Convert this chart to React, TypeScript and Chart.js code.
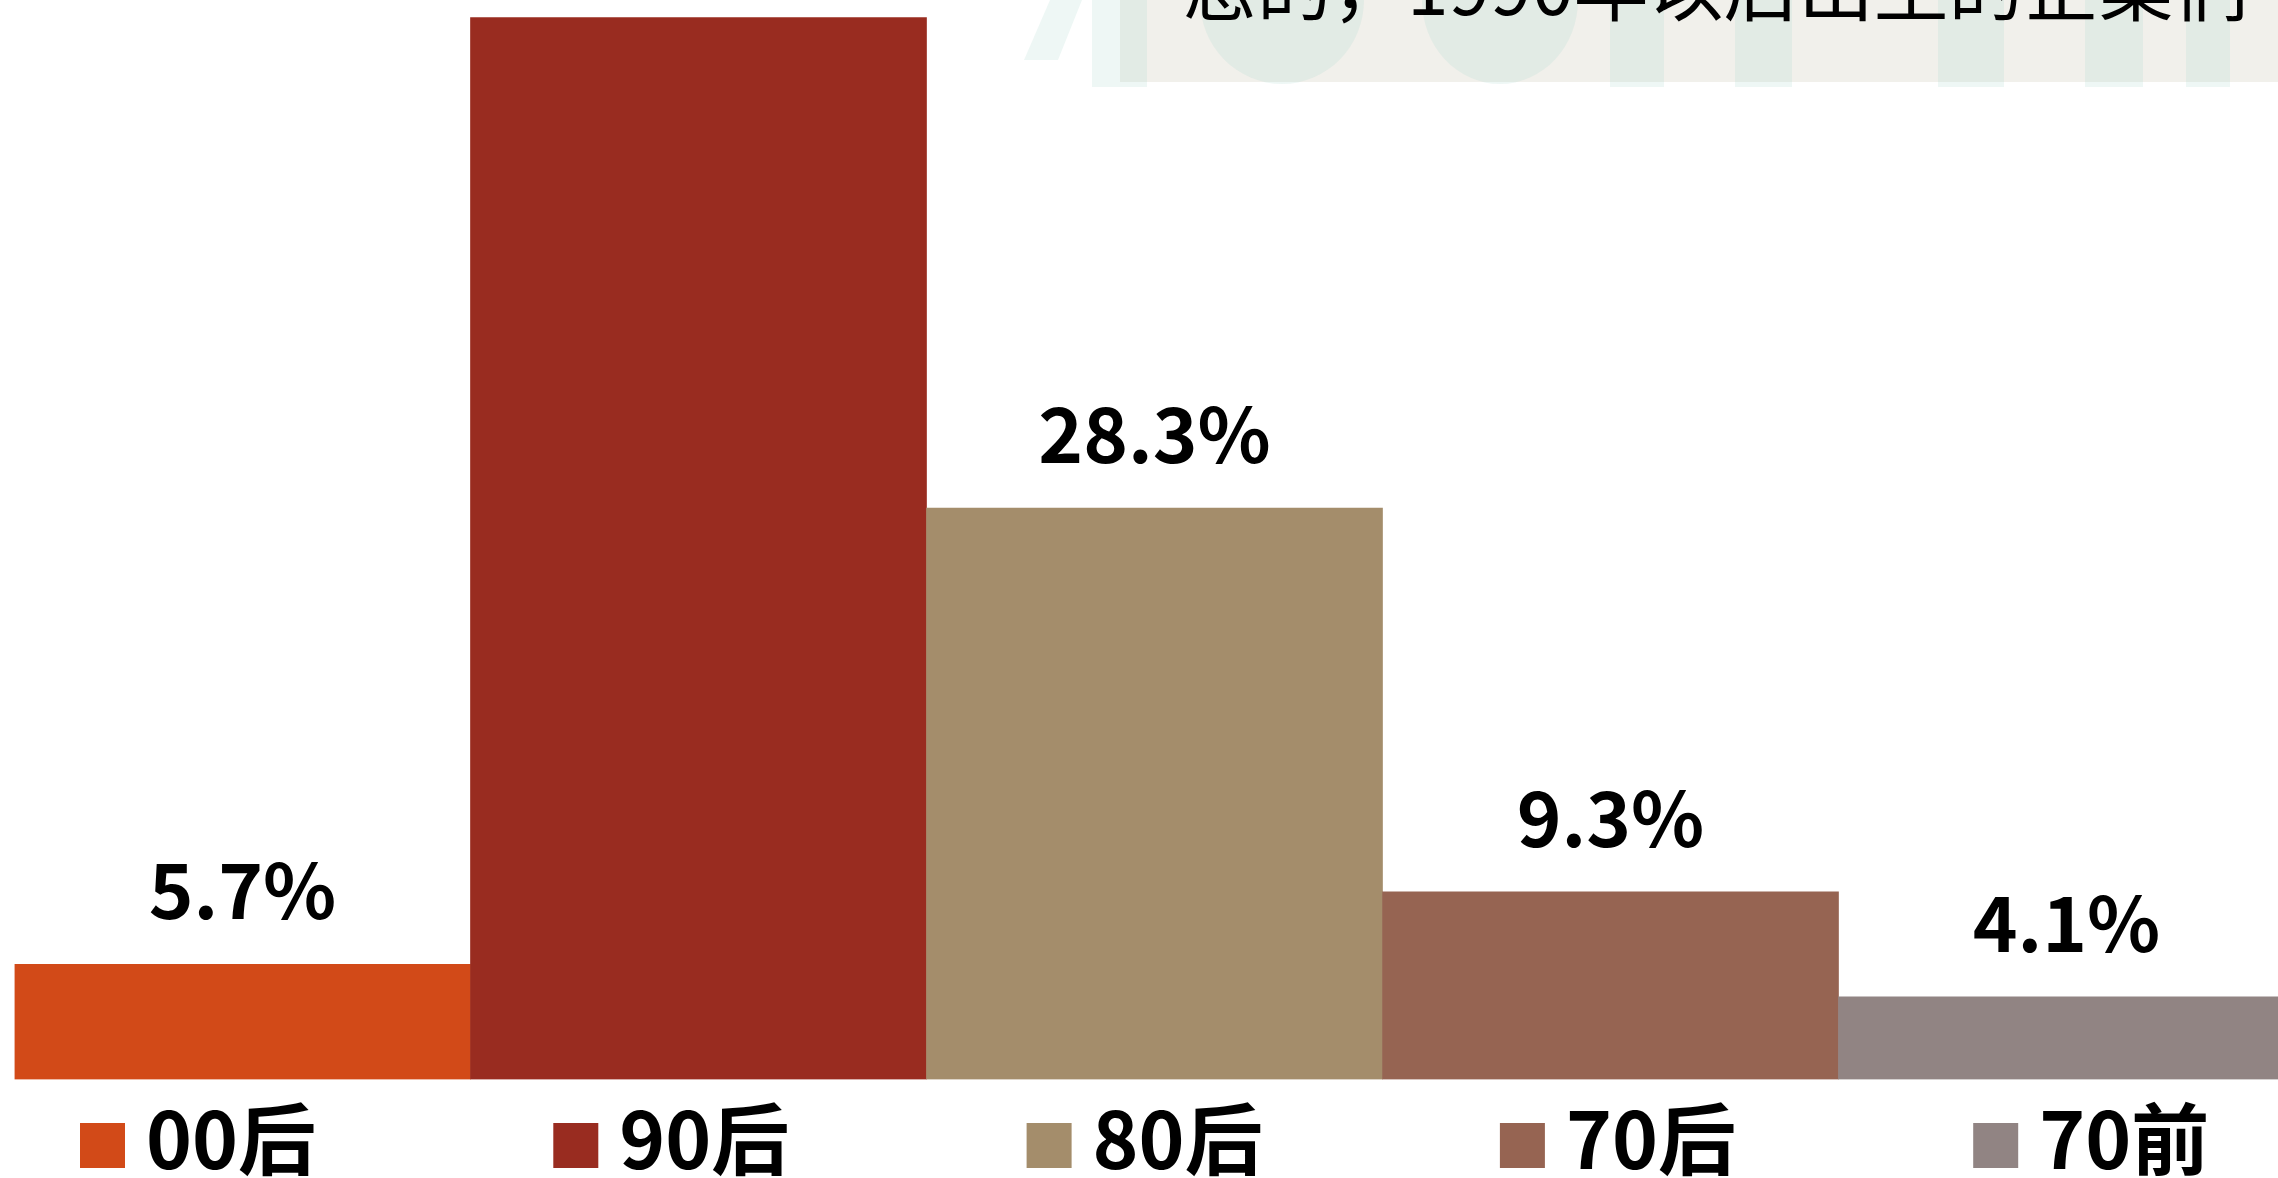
import React, { useEffect, useRef } from "react";
import { Chart, registerables } from "chart.js";

Chart.register(...registerables);

const categories = ["00后", "90后", "80后", "70后", "70前"];
const shares = [5.7, 52.6, 28.3, 9.3, 4.1];
const barColors = ["#D24A18", "#992C20", "#A48D6B", "#966452", "#918483"];
const headline = "态的，1990年以后出生的企業们";

const CANVAS_W = 2320;
const CANVAS_H = 1178;

const decorPlugin = {
  id: "decor",
  beforeDraw(chart: any) {
    const ctx = chart.ctx;
    ctx.save();
    ctx.fillStyle = "#ffffff";
    ctx.fillRect(0, 0, chart.width, chart.height);
    // banner from slide background
    ctx.fillStyle = "#F1F0EB";
    ctx.fillRect(1120, 0, 1200, 82);
    // watermark letters (bottom parts)
    ctx.fillStyle = "rgba(170, 215, 205, 0.2)";
    ctx.beginPath();
    ctx.moveTo(1050, 0);
    ctx.lineTo(1082, 0);
    ctx.lineTo(1058, 60);
    ctx.lineTo(1024, 60);
    ctx.closePath();
    ctx.fill();
    ctx.fillRect(1092, 0, 55, 87);
    ctx.beginPath();
    ctx.ellipse(1282, 0, 82, 84, 0, 0, Math.PI);
    ctx.fill();
    ctx.beginPath();
    ctx.ellipse(1500, 0, 78, 84, 0, 0, Math.PI);
    ctx.fill();
    ctx.fillRect(1610, 0, 54, 87);
    ctx.fillRect(1735, 0, 57, 87);
    ctx.fillRect(1938, 0, 66, 87);
    ctx.fillRect(2085, 0, 58, 87);
    ctx.fillRect(2186, 0, 44, 87);
    // headline text (cut off at top)
    ctx.fillStyle = "#000000";
    ctx.font = '400 75px "Noto Sans CJK SC", "Noto Sans", sans-serif';
    ctx.textAlign = "left";
    ctx.textBaseline = "alphabetic";
    ctx.fillText(headline, 1182, 15);
    ctx.restore();
  },
  afterDatasetsDraw(chart: any) {
    const ctx = chart.ctx;
    const meta = chart.getDatasetMeta(0);
    ctx.save();
    // value labels
    ctx.fillStyle = "#000000";
    ctx.font = '700 76px "Noto Sans CJK SC", "Noto Sans", sans-serif';
    ctx.textAlign = "center";
    ctx.textBaseline = "alphabetic";
    meta.data.forEach((bar: any, i: number) => {
      ctx.fillText(shares[i].toFixed(1) + "%", bar.x, bar.y - 45);
    });
    // legend
    ctx.textAlign = "left";
    ctx.font = '700 78px "Noto Sans CJK SC", "Noto Sans", sans-serif';
    categories.forEach((c, i) => {
      const x = 80 + 473.3 * i;
      ctx.fillStyle = barColors[i];
      ctx.fillRect(x, 1123, 45, 45);
      ctx.fillStyle = "#000000";
      ctx.fillText(c, x + 66, 1169);
    });
    ctx.restore();
  },
};

export default function App() {
  const ref = useRef<HTMLCanvasElement>(null);
  useEffect(() => {
    if (!ref.current) return;
    const chart = new Chart(ref.current, {
      type: "bar",
      data: {
        labels: categories,
        datasets: [
          {
            data: shares,
            backgroundColor: barColors,
            borderWidth: 0,
            barPercentage: 1,
            categoryPercentage: 1,
          },
        ],
      },
      options: {
        responsive: false,
        animation: false,
        layout: { padding: { left: 14.5, right: CANVAS_W - 2294.5, top: 0, bottom: CANVAS_H - 1079.5 } },
        plugins: { legend: { display: false }, tooltip: { enabled: false } },
        scales: {
          x: { display: false, grid: { display: false } },
          y: { display: false, min: 0, max: 53.47, grid: { display: false } },
        },
      },
      plugins: [decorPlugin],
    });
    return () => chart.destroy();
  }, []);
  return (
    <div style={{ position: "fixed", left: 0, top: 0, width: 2278, height: 1178, overflow: "hidden", background: "#fff" }}>
      <canvas ref={ref} width={CANVAS_W} height={CANVAS_H} style={{ display: "block", width: CANVAS_W, height: CANVAS_H }} />
    </div>
  );
}
